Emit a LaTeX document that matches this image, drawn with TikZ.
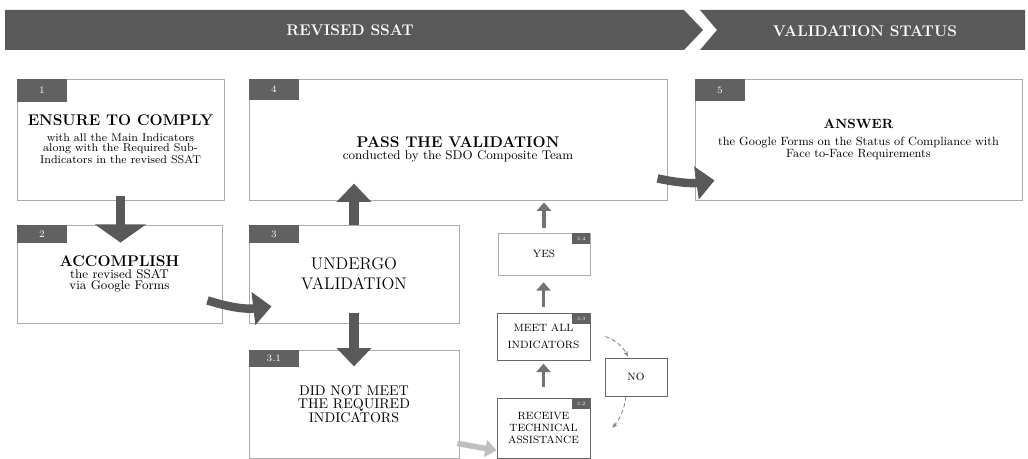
\documentclass[tikz,border=0pt]{standalone}
\usetikzlibrary{arrows.meta,calc}
\begin{document}
\begin{tikzpicture}[x=0.025cm,y=0.025cm,
    box/.style={draw=gray!65,line width=0.6pt,fill=white,align=center,inner sep=2pt},
    tag/.style={fill=black!62,text=white,font=\fontsize{7}{7}\selectfont,minimum width=1.25cm,inner sep=0pt,anchor=north west},
    mini/.style={fill=black!62,text=white,font=\fontsize{3.5}{3.5}\selectfont,minimum width=0.45cm,minimum height=0.28cm,inner sep=0pt,anchor=north east},
    head/.style={text=white,font=\fontsize{11}{11}\selectfont\bfseries},
    big/.style={black!65,line width=7pt,-{Triangle[length=13pt,width=#1]}},
    big/.default=24pt,
    lift/.style={black!55,line width=2.5pt,-{Triangle[length=6pt,width=10pt]}},
    dashflow/.style={black!50,densely dashed,line width=0.6pt,-{Stealth[length=4pt]}}]
    \useasboundingbox (0,0) rectangle (1028,-459);
    % header band
    \fill[black!65] (5,-10) -- (684,-10) -- (703,-30) -- (684,-50) -- (5,-50) -- cycle;
    \fill[black!65] (700,-10) -- (1025,-10) -- (1025,-50) -- (700,-50) -- (717,-30) -- cycle;
    \node[head] (revised) at (350,-30) {REVISED SSAT};
    \node[head] (status) at (865,-31) {VALIDATION STATUS};
    % steps
    \node[box,minimum width=5.175cm,minimum height=3.025cm,font=\fontsize{8}{7.3}\selectfont] (ensure) at (120.5,-139.5)
      {{\fontsize{11}{11}\selectfont\bfseries ENSURE TO COMPLY}\\[4pt]
       with all the Main Indicators\\ along with the Required Sub-\\ Indicators in the revised SSAT};
    \node[box,minimum width=10.45cm,minimum height=3.025cm,font=\fontsize{9}{8.5}\selectfont] (pass) at (458,-139.5)
      {\rule{0pt}{22pt}{\fontsize{11}{11}\selectfont\bfseries PASS THE VALIDATION}\\ conducted by the SDO Composite Team};
    \node[box,minimum width=8.175cm,minimum height=3.025cm,font=\fontsize{8.5}{8}\selectfont] (answer) at (858.5,-139.5)
      {{\fontsize{9.5}{9.5}\selectfont\bfseries ANSWER}\\[4pt]
       the Google Forms on the Status of Compliance with\\ Face to-Face Requirements};
    \node[box,minimum width=5.125cm,minimum height=2.45cm,font=\fontsize{9}{7.5}\selectfont] (accomplish) at (119.5,-274)
      {{\fontsize{11}{11}\selectfont\bfseries ACCOMPLISH}\\[1pt]
       the revised SSAT\\ via Google Forms};
    \node[box,minimum width=5.25cm,minimum height=2.45cm,font=\fontsize{12}{14}\selectfont] (undergo) at (354,-274)
      {UNDERGO\\ VALIDATION};
    \node[box,minimum width=5.25cm,minimum height=2.7cm,font=\fontsize{10}{9.5}\selectfont] (missed) at (354,-404)
      {DID NOT MEET\\ THE REQUIRED\\ INDICATORS};
    \node[box,minimum width=2.3cm,minimum height=1.05cm,font=\fontsize{7.5}{9}\selectfont] (yes) at (544,-254) {YES};
    \node[box,minimum width=2.325cm,minimum height=1.175cm,font=\fontsize{7.5}{12.5}\selectfont,draw=black!60] (meet) at (543.5,-336.5)
      {MEET ALL\\ INDICATORS};
    \node[box,minimum width=1.55cm,minimum height=0.95cm,font=\fontsize{7.5}{9}\selectfont,draw=black!60] (no) at (636,-377) {NO};
    \node[box,minimum width=2.325cm,minimum height=1.5cm,font=\fontsize{7.5}{8.5}\selectfont,draw=black!60] (recv) at (543.5,-428)
      {RECEIVE\\ TECHNICAL\\ ASSISTANCE};
    % number tags
    \node[tag,minimum height=0.57cm] at (ensure.north west) {1};
    \node[tag,minimum height=0.52cm] at (pass.north west) {4};
    \node[tag,minimum height=0.55cm] at (answer.north west) {5};
    \node[tag,minimum height=0.45cm] at (accomplish.north west) {2};
    \node[tag,minimum height=0.45cm] at (undergo.north west) {3};
    \node[tag,minimum height=0.42cm] at (missed.north west) {3.1};
    \node[mini] at (yes.north east) {3.4};
    \node[mini] at (meet.north east) {3.3};
    \node[mini] at (recv.north east) {3.2};
    % big arrows
    \draw[big=36pt,shorten <=-0.1cm,shorten >=-0.45cm] (ensure.south) -- (ensure.south |- accomplish.north);
    \draw[big,shorten >=-0.42cm] (undergo.north) -- (undergo.north |- pass.south);
    \draw[big,shorten <=-0.25cm,shorten >=-0.42cm] (undergo.south) -- (undergo.south |- missed.north);
    \draw[big=23pt,line width=6pt] ($(accomplish.south east)+(-15,23)$) to[bend right=12] ($(undergo.south west)+(23,17)$);
    \draw[big=23pt,line width=6pt] ($(pass.south east)+(-10,22)$) to[bend right=10] ($(answer.south west)+(20,20)$);
    % small arrows
    \draw[lift,shorten <=0.12cm,shorten >=0.05cm] (yes.north) -- (yes.north |- pass.south);
    \draw[lift,shorten <=0.15cm,shorten >=0.17cm] (meet.north) -- (meet.north |- yes.south);
    \draw[lift,shorten <=0.27cm,shorten >=0.08cm] (recv.north) -- (recv.north |- meet.south);
    \draw[dashflow] ($(meet.east)+(15,0)$) to[bend left=20] ($(no.north)+(-8,1)$);
    \draw[dashflow] ($(no.south)+(-10,0)$) to[bend left=15] ($(recv.east)+(22,0)$);
    \draw[black!25,line width=4pt,-{Triangle[length=8pt,width=12pt]}] ($(missed.south east)+(-2,15)$) -- ($(recv.south west)+(0,8)$);
\end{tikzpicture}
\end{document}
